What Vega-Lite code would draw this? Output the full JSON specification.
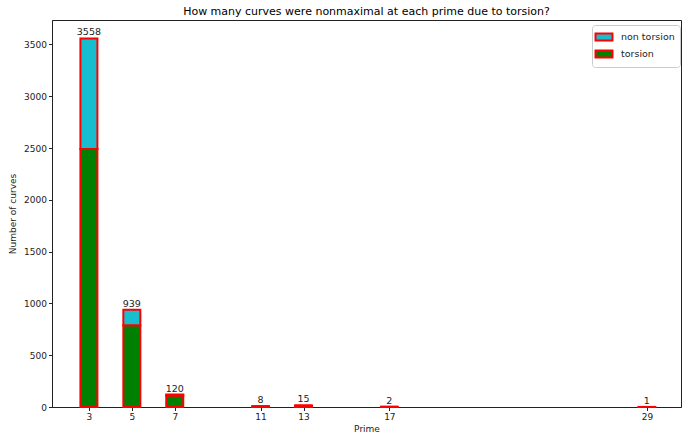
{
  "$schema": "https://vega.github.io/schema/vega-lite/v6.json",
  "width": 629,
  "height": 387,
  "autosize": {"type": "none"},
  "padding": {"left": 52, "top": 20, "right": 1, "bottom": 26},
  "background": "white",
  "title": {"text": "How many curves were nonmaximal at each prime due to torsion?", "font": "DejaVu Sans", "fontSize": 11, "fontWeight": "normal", "color": "black", "offset": 3},
  "config": {
    "view": {"stroke": "#222", "strokeWidth": 1},
    "axis": {"labelFont": "DejaVu Sans", "labelFontSize": 9, "labelColor": "#222", "titleFont": "DejaVu Sans", "titleFontSize": 9, "titleFontWeight": "normal", "titleColor": "#222", "tickColor": "#222", "domainColor": "#222", "grid": false, "tickSize": 3.5, "labelPadding": 2}
  },
  "data": {"values": [
    {"prime": 3, "type": "torsion", "count": 2490},
    {"prime": 3, "type": "non torsion", "count": 1068},
    {"prime": 5, "type": "torsion", "count": 790},
    {"prime": 5, "type": "non torsion", "count": 149},
    {"prime": 7, "type": "torsion", "count": 110},
    {"prime": 7, "type": "non torsion", "count": 10},
    {"prime": 11, "type": "torsion", "count": 8},
    {"prime": 11, "type": "non torsion", "count": 0},
    {"prime": 13, "type": "torsion", "count": 15},
    {"prime": 13, "type": "non torsion", "count": 0},
    {"prime": 17, "type": "torsion", "count": 2},
    {"prime": 17, "type": "non torsion", "count": 0},
    {"prime": 29, "type": "torsion", "count": 1},
    {"prime": 29, "type": "non torsion", "count": 0}
  ]},
  "layer": [
    {
      "mark": {"type": "bar", "size": 17, "stroke": "red", "strokeWidth": 2},
      "encoding": {
        "x": {"field": "prime", "type": "quantitative", "scale": {"domain": [1.28, 30.59], "nice": false, "zero": false, "padding": 0}, "axis": {"values": [3, 5, 7, 11, 13, 17, 29], "title": "Prime", "titlePadding": 3}},
        "y": {"field": "count", "type": "quantitative", "aggregate": "sum", "stack": "zero", "scale": {"domain": [0, 3736], "nice": false, "padding": 0}, "axis": {"values": [0, 500, 1000, 1500, 2000, 2500, 3000, 3500], "format": "d", "title": "Number of curves", "titlePadding": 6}},
        "color": {"field": "type", "type": "nominal", "scale": {"domain": ["non torsion", "torsion"], "range": ["#17becf", "green"]},
          "legend": {"title": null, "orient": "none", "legendX": 540, "legendY": 5, "symbolType": "M-1.5,-0.6H1.5V0.6H-1.5Z", "symbolSize": 128, "symbolStrokeColor": "red", "symbolStrokeWidth": 2, "symbolOpacity": 1, "labelFont": "DejaVu Sans", "labelFontSize": 9.5, "labelColor": "#222", "strokeColor": "#ccc", "fillColor": "white", "padding": 5, "cornerRadius": 3, "rowPadding": 1, "labelOffset": 10}},
        "order": {"field": "type", "sort": "descending"}
      }
    },
    {
      "transform": [{"aggregate": [{"op": "sum", "field": "count", "as": "total"}], "groupby": ["prime"]}],
      "mark": {"type": "text", "baseline": "bottom", "dy": -1, "font": "DejaVu Sans", "fontSize": 9.5, "color": "#222"},
      "encoding": {
        "x": {"field": "prime", "type": "quantitative"},
        "y": {"field": "total", "type": "quantitative"},
        "text": {"field": "total", "type": "quantitative"}
      }
    }
  ]
}
